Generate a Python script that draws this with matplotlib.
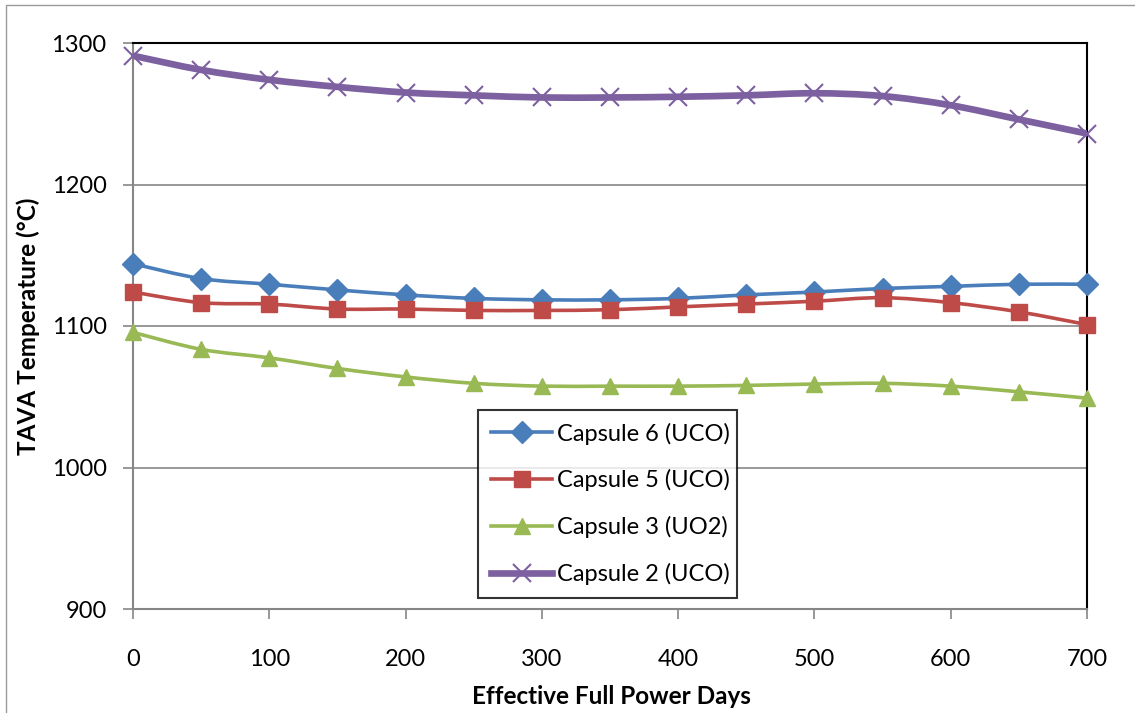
import matplotlib
matplotlib.use("Agg")
import matplotlib.pyplot as plt
from matplotlib.path import Path
from matplotlib.patches import PathPatch, Rectangle
from matplotlib.lines import Line2D

plt.rcParams['font.family'] = ['Lato', 'DejaVu Sans']

# data
efpd = [0, 50, 100, 150, 200, 250, 300, 350, 400, 450, 500, 550, 600, 650, 700]
capsule6 = [1144, 1133.5, 1129.5, 1125.5, 1122, 1119.5, 1118.5, 1118.5, 1119.5, 1122, 1124, 1126.5, 1128, 1129.5, 1129.5]
capsule5 = [1124, 1116.5, 1115.5, 1112, 1112, 1111, 1111, 1111.5, 1113.5, 1115.5, 1117.5, 1120, 1116.5, 1110, 1101]
capsule3 = [1095.5, 1083.5, 1077.5, 1070, 1064, 1059.5, 1057.5, 1057.5, 1057.5, 1058, 1059, 1059.5, 1057.5, 1053.5, 1049]
capsule2 = [1291, 1281, 1274, 1269, 1265, 1263, 1261.5, 1261.5, 1262, 1263, 1264.5, 1262.5, 1256, 1246, 1236]

series_labels = ['Capsule 6 (UCO)', 'Capsule 5 (UCO)', 'Capsule 3 (UO2)', 'Capsule 2 (UCO)']
xticks = [0, 100, 200, 300, 400, 500, 600, 700]
yticks = [900, 1000, 1100, 1200, 1300]


def smooth_path(x, y):
    # excel-style smoothed line: cubic bezier segments through every point
    n = len(x)
    verts = [(x[0], y[0])]
    codes = [Path.MOVETO]
    for i in range(n - 1):
        x0, y0 = (x[i - 1], y[i - 1]) if i > 0 else (x[i], y[i])
        x3, y3 = (x[i + 2], y[i + 2]) if i + 2 < n else (x[i + 1], y[i + 1])
        c1 = (x[i] + (x[i + 1] - x0) / 6, y[i] + (y[i + 1] - y0) / 6)
        c2 = (x[i + 1] - (x3 - x[i]) / 6, y[i + 1] - (y3 - y[i]) / 6)
        verts += [c1, c2, (x[i + 1], y[i + 1])]
        codes += [Path.CURVE4] * 3
    return Path(verts, codes)


fig = plt.figure(figsize=(11.35, 7.13), dpi=100)
ax = fig.add_axes([133 / 1135, 1 - 609 / 713, 954 / 1135, 566 / 713])

# outer chart border
fig.patches.append(Rectangle((6 / 1135, -0.1), 1.2, 1.1 - 5 / 713, transform=fig.transFigure,
                             fill=False, edgecolor='#9a9a9a', lw=1))

styles = [
    (capsule6, '#4a7ebb', 'D', 11, 2.6),
    (capsule5, '#be4b48', 's', 11, 2.6),
    (capsule3, '#98b954', '^', 12, 2.6),
    (capsule2, '#7d60a0', 'x', 13, 4.8),
]

handles = []
for (vals, col, mk, ms, lw), lab in zip(styles, series_labels):
    ax.add_patch(PathPatch(smooth_path(efpd, vals), fill=False, edgecolor=col, lw=lw,
                           capstyle='round', joinstyle='round', zorder=3))
    if mk == 'x':
        ax.plot(efpd, vals, ls='none', marker=mk, ms=ms, mew=1.5, color=col, zorder=4, clip_on=False)
    else:
        ax.plot(efpd, vals, ls='none', marker=mk, ms=ms, color=col, mec=col, zorder=4, clip_on=False)
    handles.append(Line2D([], [], color=col, lw=lw, marker=mk, ms=ms,
                          mew=1.5 if mk == 'x' else 1, mec=col, label=lab))

ax.set_xlim(0, 700)
ax.set_ylim(900, 1300)
ax.set_xticks(xticks)
ax.set_yticks(yticks)
ax.tick_params(axis='both', direction='out', length=7, width=1.2, color='#868686', labelsize=17)
ax.tick_params(axis='x', pad=22)
ax.tick_params(axis='y', pad=12)
ax.grid(axis='y', color='#868686', lw=1.2)
ax.set_axisbelow(True)

for s in ['left', 'bottom']:
    ax.spines[s].set_color('#868686')
    ax.spines[s].set_linewidth(1.5)
for s in ['top', 'right']:
    ax.spines[s].set_color('black')
    ax.spines[s].set_linewidth(1.5)

ax.set_xlabel('Effective Full Power Days', fontsize=17.5, fontweight='bold')
ax.set_ylabel('TAVA Temperature (°C)', fontsize=17.5, fontweight='bold')
ax.xaxis.set_label_coords(0.501, -0.135)
ax.yaxis.set_label_coords(-0.098, 0.5)

leg = ax.legend(handles=handles, loc='lower left', bbox_to_anchor=(0.3616, 0.019, 0.2715, 0.339),
                mode='expand', fontsize=17, frameon=True, fancybox=False, handlelength=2.6,
                handletextpad=0.2, labelspacing=1.05, borderpad=0.55, borderaxespad=0)
leg.get_frame().set_edgecolor('black')
leg.get_frame().set_linewidth(1.5)

fig.savefig('out.png', dpi=100)
